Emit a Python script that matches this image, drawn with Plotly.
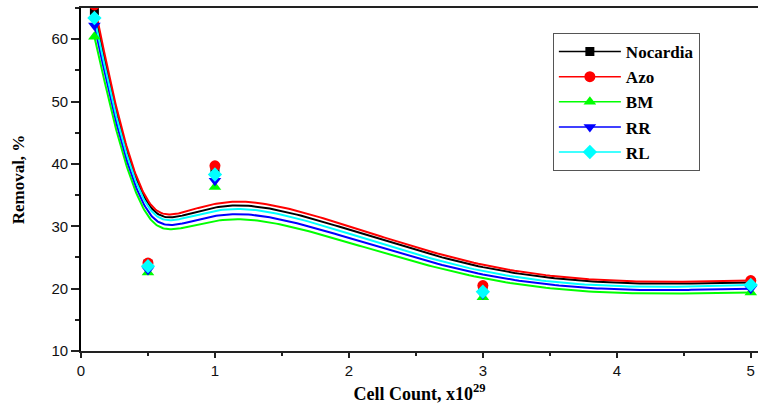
import numpy as np
import plotly.graph_objects as go

# ---- data ----
cell_count = [0.1, 0.5, 1.0, 3.0, 5.0]
nocardia = [64.6, 23.9, 38.9, 20.2, 21.0]
azo = [65.5, 24.1, 39.7, 20.5, 21.3]
bm = [60.4, 22.6, 36.3, 18.6, 19.4]
rr = [62.2, 23.0, 37.3, 19.1, 20.0]
rl = [63.4, 23.6, 38.3, 19.5, 20.6]

series_names = ["Nocardia", "Azo", "BM", "RR", "RL"]
series_values = [nocardia, azo, bm, rr, rl]
colors = ["#000000", "#FF0000", "#00FF00", "#0000FF", "#00FFFF"]
symbols = ["square", "circle", "triangle-up", "triangle-down", "diamond"]
sizes = [9, 11, 11, 11, 11]


def bspline(xs, ys, n=60):
    """Uniform cubic B-spline (Origin style) with the end points as control points."""
    px = np.array([xs[0]] * 2 + list(xs) + [xs[-1]] * 2, dtype=float)
    py = np.array([ys[0]] * 2 + list(ys) + [ys[-1]] * 2, dtype=float)
    t = np.linspace(0, 1, n)
    b0 = (1 - t) ** 3 / 6
    b1 = (3 * t ** 3 - 6 * t ** 2 + 4) / 6
    b2 = (-3 * t ** 3 + 3 * t ** 2 + 3 * t + 1) / 6
    b3 = t ** 3 / 6
    ox, oy = [], []
    for j in range(len(px) - 3):
        ox.extend(b0 * px[j] + b1 * px[j + 1] + b2 * px[j + 2] + b3 * px[j + 3])
        oy.extend(b0 * py[j] + b1 * py[j + 1] + b2 * py[j + 2] + b3 * py[j + 3])
    return ox, oy


fig = go.Figure()
# smoothed B-spline curves
for name, vals, c in zip(series_names, series_values, colors):
    sx, sy = bspline(cell_count, vals)
    fig.add_trace(go.Scatter(x=sx, y=sy, mode="lines", line=dict(color=c, width=2),
                             showlegend=False, hoverinfo="skip", legendgroup=name))
# data markers
for name, vals, c, s, sz in zip(series_names, series_values, colors, symbols, sizes):
    fig.add_trace(go.Scatter(x=cell_count, y=vals, mode="markers", name=name,
                             legendgroup=name, showlegend=False,
                             marker=dict(symbol=s, size=sz, color=c, line=dict(width=0))))
# legend entries (line + symbol)
for name, c, s, sz in zip(series_names, colors, symbols, sizes):
    fig.add_trace(go.Scatter(x=[None], y=[None], mode="lines+markers", name=name,
                             legendgroup=name,
                             line=dict(color=c, width=1.5),
                             marker=dict(symbol=s, size=sz, color=c, line=dict(width=0))))

serif = "Liberation Serif, Times New Roman, serif"
sans = "Liberation Sans, Arial, sans-serif"

fig.update_layout(
    width=758, height=404,
    margin=dict(l=81, r=0, t=8, b=53),
    paper_bgcolor="white", plot_bgcolor="white",
    legend=dict(x=0.697, y=0.927, xanchor="left", yanchor="top",
                bgcolor="white", bordercolor="#555555", borderwidth=1,
                font=dict(family=serif, size=17, color="black", weight="bold"),
                itemwidth=62, tracegroupgap=0),
    xaxis=dict(range=[0, 5.054], tickmode="array", tickvals=[0, 1, 2, 3, 4, 5],
               ticktext=["0", "1", "2", "3", "4", "5"],
               ticks="outside", ticklen=5, tickwidth=1.5, tickcolor="#222",
               minor=dict(ticks="outside", ticklen=3, dtick=0.5, tickwidth=1.5, tickcolor="#222"),
               showline=True, linecolor="#222", linewidth=1.5, mirror=True,
               showgrid=False, zeroline=False,
               tickfont=dict(family=sans, size=15, color="#111"),
               title=dict(text="Cell Count, x10<sup>29</sup>", standoff=12,
                          font=dict(family=serif, size=18, color="black", weight="bold"))),
    yaxis=dict(range=[10, 65], tickmode="array", tickvals=[10, 20, 30, 40, 50, 60],
               ticktext=["10", "20", "30", "40", "50", "60"],
               ticks="outside", ticklen=8, tickwidth=1.5, tickcolor="#222",
               minor=dict(ticks="outside", ticklen=4, dtick=5, tickwidth=1.5, tickcolor="#222"),
               showline=True, linecolor="#000", linewidth=1.8, mirror=False,
               showgrid=False, zeroline=False,
               tickfont=dict(family=sans, size=15, color="#111"),
               title=dict(text="Removal, %", standoff=22,
                          font=dict(family=serif, size=17, color="black", weight="bold"))),
)

fig.write_html("out.html", config={"displayModeBar": False},
               post_script="document.body.style.margin='0';")
